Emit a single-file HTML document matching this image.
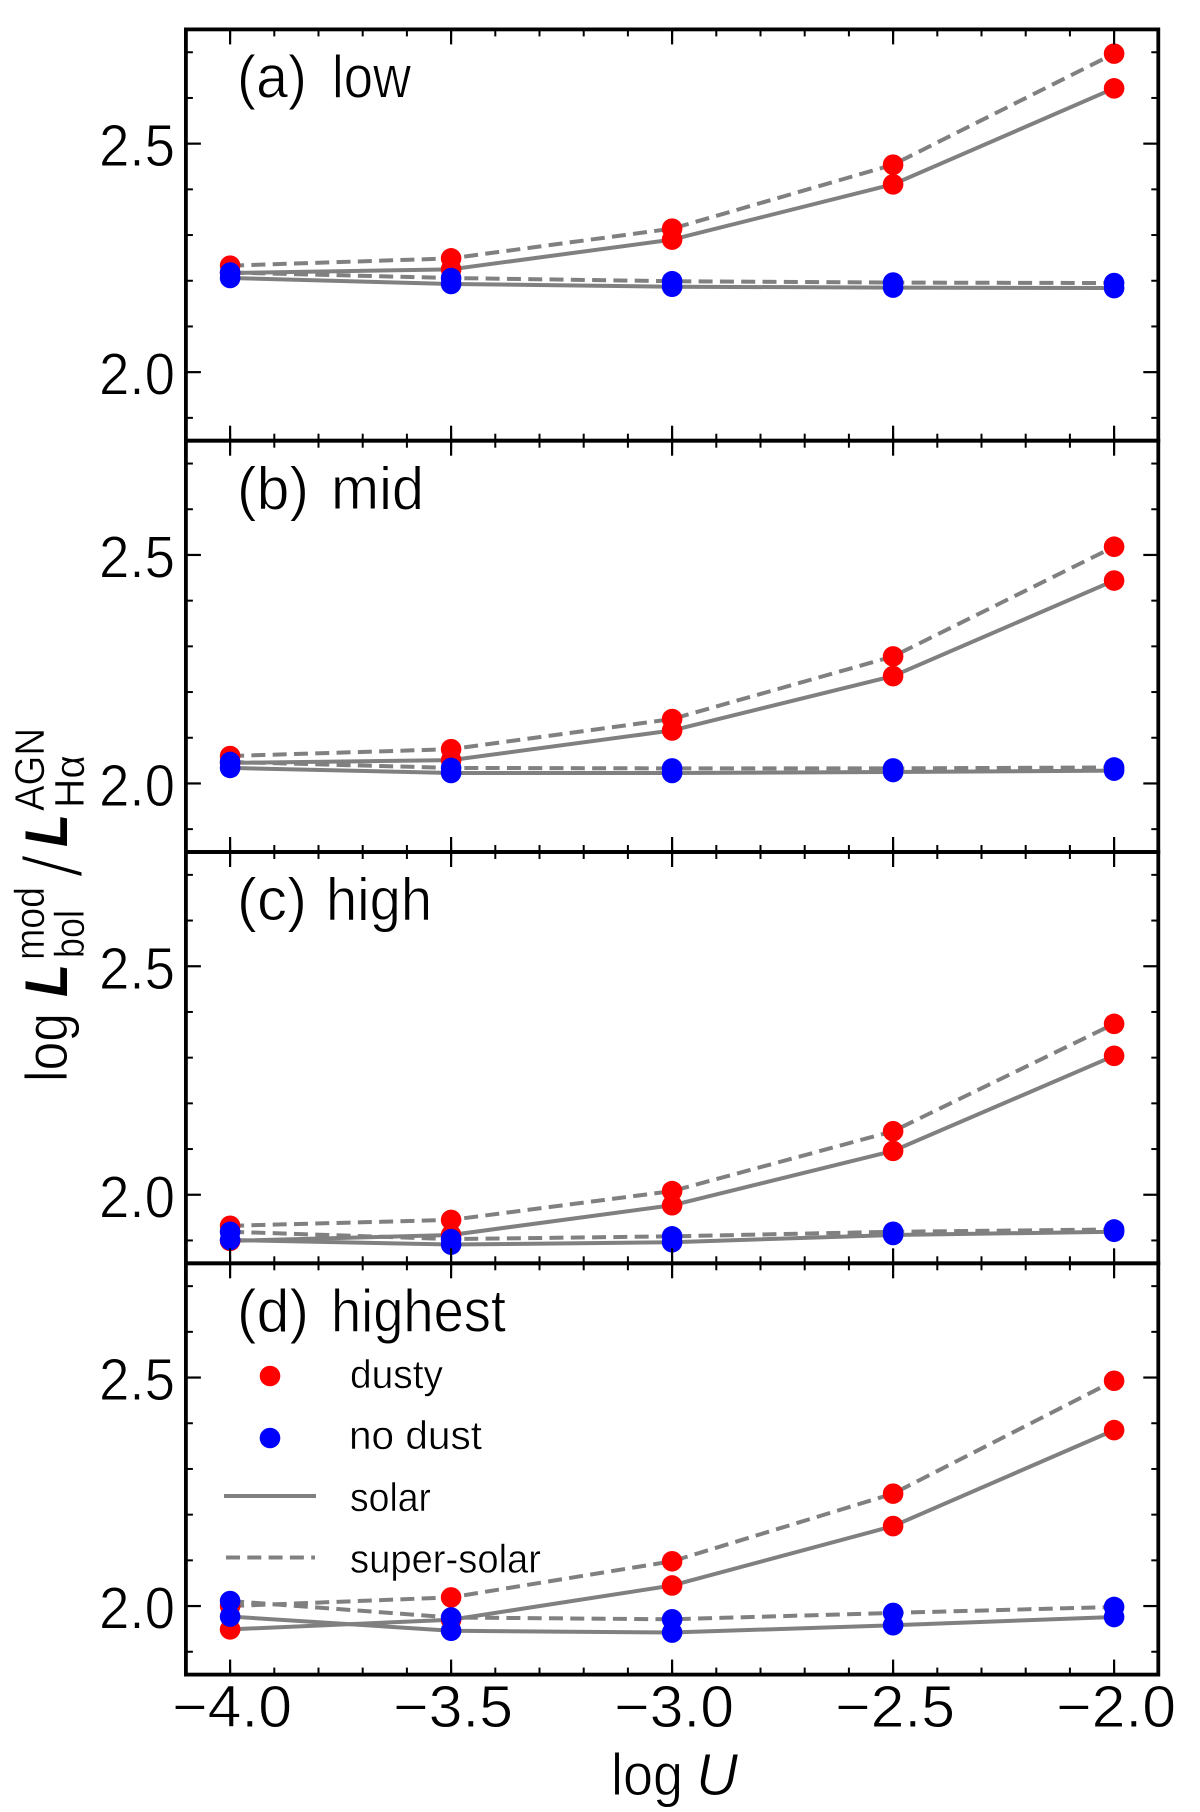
<!DOCTYPE html>
<html lang="en">
<head>
<meta charset="utf-8">
<title>log L_bol / L_Halpha vs log U</title>
<style>
html,body{margin:0;padding:0;background:#fff;}
svg{display:block;}
text{font-family:"Liberation Sans","DejaVu Sans",sans-serif;fill:#000;stroke:#fff;stroke-width:0.9;}
text.heavy{stroke:none;}
text.small{stroke-width:0.5;}
text.slash{stroke-width:3;}
</style>
</head>
<body>
<svg id="chart" xmlns="http://www.w3.org/2000/svg" width="1200" height="1812" viewBox="0 0 1200 1812">
  <rect x="0" y="0" width="1200" height="1812" fill="#fff"/>
  <g id="panels"></g>
  <g id="panel-text">
    <text x="237" y="97.5" font-size="60" textLength="70" lengthAdjust="spacingAndGlyphs">(a)</text>
    <text x="332" y="97.5" font-size="60" textLength="79" lengthAdjust="spacingAndGlyphs">low</text>
    <text x="237" y="508.8" font-size="60" textLength="72" lengthAdjust="spacingAndGlyphs">(b)</text>
    <text x="331" y="508.8" font-size="60" textLength="93" lengthAdjust="spacingAndGlyphs">mid</text>
    <text x="237" y="920.1" font-size="60" textLength="70" lengthAdjust="spacingAndGlyphs">(c)</text>
    <text x="326" y="920.1" font-size="60" textLength="106" lengthAdjust="spacingAndGlyphs">high</text>
    <text x="237" y="1331.4" font-size="60" textLength="72" lengthAdjust="spacingAndGlyphs">(d)</text>
    <text x="331" y="1331.4" font-size="60" textLength="175" lengthAdjust="spacingAndGlyphs">highest</text>
  </g>
  <g id="legend">
    <circle cx="270" cy="1376" r="10.3" fill="#ff0000"/>
    <text class="small" x="350" y="1388" font-size="40" textLength="93" lengthAdjust="spacingAndGlyphs">dusty</text>
    <circle cx="270" cy="1438" r="10.3" fill="#0000ff"/>
    <text class="small" x="349" y="1449" font-size="40" textLength="133" lengthAdjust="spacingAndGlyphs">no dust</text>
    <line x1="224" y1="1496" x2="316" y2="1496" stroke="#808080" stroke-width="4"/>
    <text class="small" x="350" y="1511" font-size="40" textLength="81" lengthAdjust="spacingAndGlyphs">solar</text>
    <line x1="226" y1="1557.5" x2="315" y2="1557.5" stroke="#808080" stroke-width="4" stroke-dasharray="14 7.3"/>
    <text class="small" x="350" y="1572.5" font-size="40" textLength="191" lengthAdjust="spacingAndGlyphs">super-solar</text>
  </g>
  <g id="x-title">
    <text x="611" y="1795" font-size="59" textLength="72" lengthAdjust="spacingAndGlyphs">log</text>
    <text x="696" y="1795" font-size="59" font-style="italic" textLength="42" lengthAdjust="spacingAndGlyphs">U</text>
  </g>
  <g id="y-title">
    <text transform="translate(67,1082) rotate(-90)" font-size="59" textLength="69" lengthAdjust="spacingAndGlyphs">log</text>
    <text class="heavy" transform="translate(67,997) rotate(-90)" font-size="60" font-style="italic" font-weight="bold" textLength="33" lengthAdjust="spacingAndGlyphs">L</text>
    <text class="small" transform="translate(44,960) rotate(-90)" font-size="42" textLength="73" lengthAdjust="spacingAndGlyphs">mod</text>
    <text class="small" transform="translate(84,958) rotate(-90)" font-size="42" textLength="48" lengthAdjust="spacingAndGlyphs">bol</text>
    <text class="slash" transform="translate(82,878) rotate(-90)" font-size="84" textLength="24" lengthAdjust="spacingAndGlyphs">/</text>
    <text class="heavy" transform="translate(67,847) rotate(-90)" font-size="60" font-style="italic" font-weight="bold" textLength="33" lengthAdjust="spacingAndGlyphs">L</text>
    <text class="small" transform="translate(44,811) rotate(-90)" font-size="42" textLength="83" lengthAdjust="spacingAndGlyphs">AGN</text>
    <text class="small" transform="translate(84,808) rotate(-90)" font-size="42" textLength="53" lengthAdjust="spacingAndGlyphs">Hα</text>
  </g>
</svg>
<script>
// Data
const logU = [-4.0, -3.5, -3.0, -2.5, -2.0];
const xTickValues = [-4.0, -3.5, -3.0, -2.5, -2.0];
const xTickLabels = ["\u22124.0", "\u22123.5", "\u22123.0", "\u22122.5", "\u22122.0"];
const yTickValues = [2.0, 2.5];
const yTickLabels = ["2.0", "2.5"];
const xMinorTicks = [-4.0,-3.9,-3.8,-3.7,-3.6,-3.5,-3.4,-3.3,-3.2,-3.1,-3.0,-2.9,-2.8,-2.7,-2.6,-2.5,-2.4,-2.3,-2.2,-2.1,-2.0];
const yMinorTicks = [1.9,2.1,2.2,2.3,2.4,2.6,2.7];

const lowDustySolar = [2.217, 2.225, 2.290, 2.411, 2.621];
const lowDustySuper = [2.233, 2.249, 2.314, 2.454, 2.697];
const lowCleanSolar = [2.206, 2.193, 2.187, 2.185, 2.184];
const lowCleanSuper = [2.218, 2.206, 2.199, 2.196, 2.195];

const midDustySolar = [2.045, 2.051, 2.116, 2.235, 2.444];
const midDustySuper = [2.060, 2.075, 2.141, 2.278, 2.518];
const midCleanSolar = [2.034, 2.023, 2.023, 2.025, 2.028];
const midCleanSuper = [2.047, 2.034, 2.033, 2.033, 2.035];

const highDustySolar = [1.899, 1.912, 1.977, 2.096, 2.304];
const highDustySuper = [1.932, 1.945, 2.008, 2.139, 2.374];
const highCleanSolar = [1.901, 1.891, 1.896, 1.912, 1.919];
const highCleanSuper = [1.919, 1.903, 1.909, 1.919, 1.924];

const highestDustySolar = [1.949, 1.970, 2.045, 2.175, 2.385];
const highestDustySuper = [2.000, 2.019, 2.098, 2.246, 2.493];
const highestCleanSolar = [1.977, 1.946, 1.942, 1.958, 1.976];
const highestCleanSuper = [2.011, 1.975, 1.971, 1.985, 1.998];

const panelKeys = ["a", "b", "c", "d"];
const dustySolarSets = [lowDustySolar, midDustySolar, highDustySolar, highestDustySolar];
const dustySuperSets = [lowDustySuper, midDustySuper, highDustySuper, highestDustySuper];
const cleanSolarSets = [lowCleanSolar, midCleanSolar, highCleanSolar, highestCleanSolar];
const cleanSuperSets = [lowCleanSuper, midCleanSuper, highCleanSuper, highestCleanSuper];

const xDomain = [-4.1, -1.9];
const yDomain = [1.85, 2.75];
const plotLeft = 185.9, plotRight = 1158.3, plotTop = 29.4, panelHeight = 411.3;
const NS = "http://www.w3.org/2000/svg";
const host = document.getElementById("panels");

function xScale(v) { return plotLeft + (v - xDomain[0]) / (xDomain[1] - xDomain[0]) * (plotRight - plotLeft); }
function panelTop(p) { return plotTop + p * panelHeight; }
function yScale(p, v) { return panelTop(p) + (yDomain[1] - v) / (yDomain[1] - yDomain[0]) * panelHeight; }
function make(tag, parent, props) {
  const n = document.createElementNS(NS, tag);
  for (const k in props) n.setAttribute(k, props[k]);
  parent.appendChild(n);
  return n;
}
function tick(parent, name, x1, y1, x2, y2, w) {
  const t = make("line", parent, { x1: x1, y1: y1, x2: x2, y2: y2, stroke: "#000", "stroke-width": w });
  
  
}

function drawSeries(g, p, values, dashed, name) {
  const pts = logU.map(function (u, i) { return xScale(u).toFixed(2) + "," + yScale(p, values[i]).toFixed(2); }).join(" ");
  const line = make("polyline", g, { points: pts, fill: "none", stroke: "#808080", "stroke-width": 4, "stroke-linejoin": "round" });
  if (dashed) line.setAttribute("stroke-dasharray", "14 7.3");
  
  
}
function drawPoints(g, p, values, color, name) {
  logU.forEach(function (u, i) {
    const c = make("circle", g, { cx: xScale(u), cy: yScale(p, values[i]), r: 10.3, fill: color });
    
    
  });
}

panelKeys.forEach(function (key, p) {
  const g = make("g", host, {});
  
  
  const top = panelTop(p), bottom = top + panelHeight;

  drawSeries(g, p, dustySolarSets[p], false, 'line-dusty-solar');
  drawSeries(g, p, dustySuperSets[p], true, 'line-dusty-super-solar');
  drawSeries(g, p, cleanSolarSets[p], false, 'line-no-dust-solar');
  drawSeries(g, p, cleanSuperSets[p], true, 'line-no-dust-super-solar');
  drawPoints(g, p, dustySolarSets[p], "#ff0000", 'point-dusty-solar');
  drawPoints(g, p, dustySuperSets[p], "#ff0000", 'point-dusty-super-solar');
  drawPoints(g, p, cleanSolarSets[p], "#0000ff", 'point-no-dust-solar');
  drawPoints(g, p, cleanSuperSets[p], "#0000ff", 'point-no-dust-super-solar');

  xMinorTicks.forEach(function (v) {
    const x = xScale(v);
    tick(g, 'x-minor-tick', x, top, x, top + 7, 2);
    tick(g, 'x-minor-tick', x, bottom, x, bottom - 7, 2);
  });
  xTickValues.forEach(function (v) {
    const x = xScale(v);
    tick(g, 'x-major-tick', x, top, x, top + 15, 2.2);
    tick(g, 'x-major-tick', x, bottom, x, bottom - 15, 2.2);
  });
  yMinorTicks.forEach(function (v) {
    const y = yScale(p, v);
    tick(g, 'y-minor-tick', plotLeft, y, plotLeft + 7, y, 2);
    tick(g, 'y-minor-tick', plotRight, y, plotRight - 7, y, 2);
  });
  yTickValues.forEach(function (v, i) {
    const y = yScale(p, v);
    tick(g, 'y-major-tick', plotLeft, y, plotLeft + 15, y, 2.2);
    tick(g, 'y-major-tick', plotRight, y, plotRight - 15, y, 2.2);
    const t = make("text", g, { x: 99, y: y + 22.5, "font-size": 59, textLength: 76, lengthAdjust: "spacingAndGlyphs" });
    t.textContent = yTickLabels[i];
    
    
  });

  const frame = make("rect", g, { x: plotLeft, y: top, width: plotRight - plotLeft, height: panelHeight, fill: "none", stroke: "#000", "stroke-width": 3.8 });
  
  
});

xTickValues.forEach(function (v, i) {
  const t = make("text", host, { x: xScale(v) - 58, y: 1727, "font-size": 59, textLength: 120, lengthAdjust: "spacingAndGlyphs" });
  t.textContent = xTickLabels[i];
  
  
});
</script>
</body>
</html>
